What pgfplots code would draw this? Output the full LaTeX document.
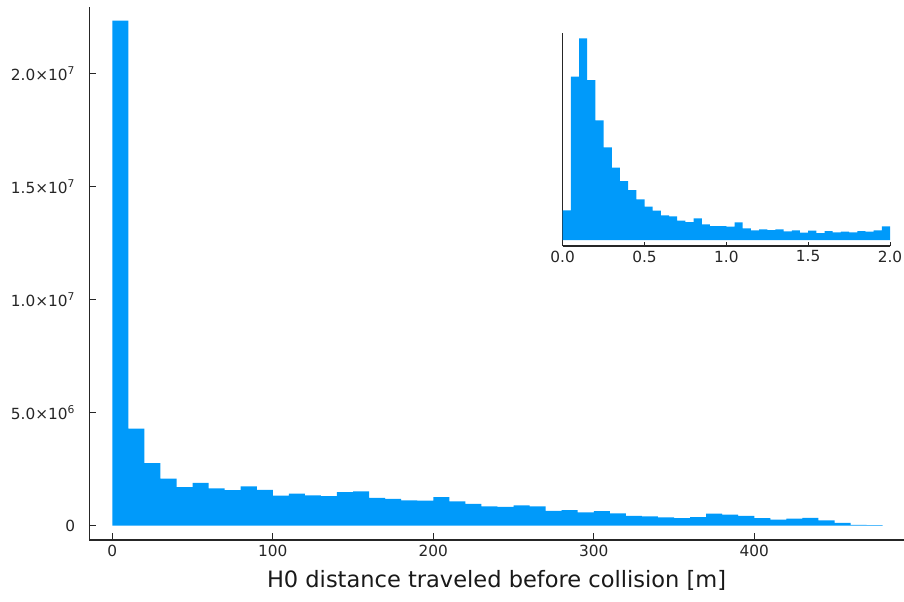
\documentclass[border=0pt]{standalone}
\usepackage{fontspec}
\setmainfont{DejaVu Sans}
\usepackage{pgfplots}
\pgfplotsset{compat=1.18}
\definecolor{barblue}{HTML}{009AFA}
\begin{document}
\begin{tikzpicture}
\begin{axis}[
  name=main,
  at={(0pt,0pt)}, anchor=south west,
  scale only axis, width=611.1pt, height=399.75pt,
  xmin=-14.4, xmax=493.3, ymin=-0.633e6, ymax=22.95e6,
  axis lines*=left,
  axis line style={line width=0.8pt, black!85},
  tick align=inside, major tick length=5pt,
  tick style={line width=0.6pt, black!85},
  xtick={0,100,200,300,400}, xticklabels={0,100,200,300,400},
  ytick={0,5e6,1e7,1.5e7,2e7},
  yticklabels={0,{5.0×10\textsuperscript{6}},{1.0×10\textsuperscript{7}},{1.5×10\textsuperscript{7}},{2.0×10\textsuperscript{7}}},
  ticklabel style={font=\fontsize{11.5}{12}\selectfont, text=black!85},
  yticklabel style={xshift=-7pt},
  xlabel={H0 distance traveled before collision [m]},
  xlabel style={font=\fontsize{16.9}{18}\selectfont, text=black!90, yshift=-4pt},
  scaled y ticks=false, scaled x ticks=false,
]
\addplot[ybar interval, fill=barblue, draw=none] coordinates {
(0,2.235e7) (10,4.29e6) (20,2.77e6) (30,2.08e6) (40,1.71e6) (50,1.89e6)
(60,1.65e6) (70,1.57e6) (80,1.74e6) (90,1.59e6) (100,1.33e6) (110,1.42e6)
(120,1.34e6) (130,1.31e6) (140,1.48e6) (150,1.52e6) (160,1.23e6) (170,1.19e6)
(180,1.12e6) (190,1.11e6) (200,1.26e6) (210,1.08e6) (220,0.97e6) (230,0.86e6)
(240,0.83e6) (250,0.90e6) (260,0.86e6) (270,0.66e6) (280,0.69e6) (290,0.59e6)
(300,0.64e6) (310,0.55e6) (320,0.43e6) (330,0.41e6) (340,0.37e6) (350,0.34e6)
(360,0.38e6) (370,0.53e6) (380,0.49e6) (390,0.43e6) (400,0.34e6) (410,0.27e6)
(420,0.31e6) (430,0.35e6) (440,0.24e6) (450,0.13e6) (460,0.04e6) (470,0.02e6)
(480,0.02e6)
};
\end{axis}
\begin{axis}[
  at={(355.1pt,220.5pt)}, anchor=south west,
  scale only axis, width=245.5pt, height=159.5pt,
  xmin=0, xmax=2, ymin=-6, ymax=206.7,
  axis lines*=left,
  axis line style={line width=0.8pt, black!85},
  tick align=inside, major tick length=3pt,
  tick style={line width=0.6pt, black!85},
  xtick={0,0.5,1,1.5,2}, xticklabels={0.0,0.5,1.0,1.5,2.0},
  ytick=\empty,
  ticklabel style={font=\fontsize{11.5}{12}\selectfont, text=black!85},
]
\addplot[ybar interval, fill=barblue, draw=none] coordinates {
(0,29.7) (0.05,163.3) (0.10,201.7) (0.15,160) (0.20,119.7) (0.25,92.7)
(0.30,72.3) (0.35,59) (0.40,50) (0.45,40.7) (0.50,33.3) (0.55,29.3)
(0.60,24.7) (0.65,23.7) (0.70,19.3) (0.75,18) (0.80,21.7) (0.85,15.7)
(0.90,14) (0.95,14) (1.00,13.3) (1.05,17.7) (1.10,11.7) (1.15,9.7)
(1.20,10.7) (1.25,10) (1.30,10.7) (1.35,8.7) (1.40,9.7) (1.45,7.3)
(1.50,9.3) (1.55,7) (1.60,9) (1.65,7.7) (1.70,8.3) (1.75,7.7)
(1.80,9) (1.85,8.3) (1.90,9.7) (1.95,13.7) (2.00,13.7)
};
\end{axis}
\pgfresetboundingbox
\path (-66.9pt,-45.75pt) rectangle (611.1pt,405pt);
\end{tikzpicture}
\end{document}
